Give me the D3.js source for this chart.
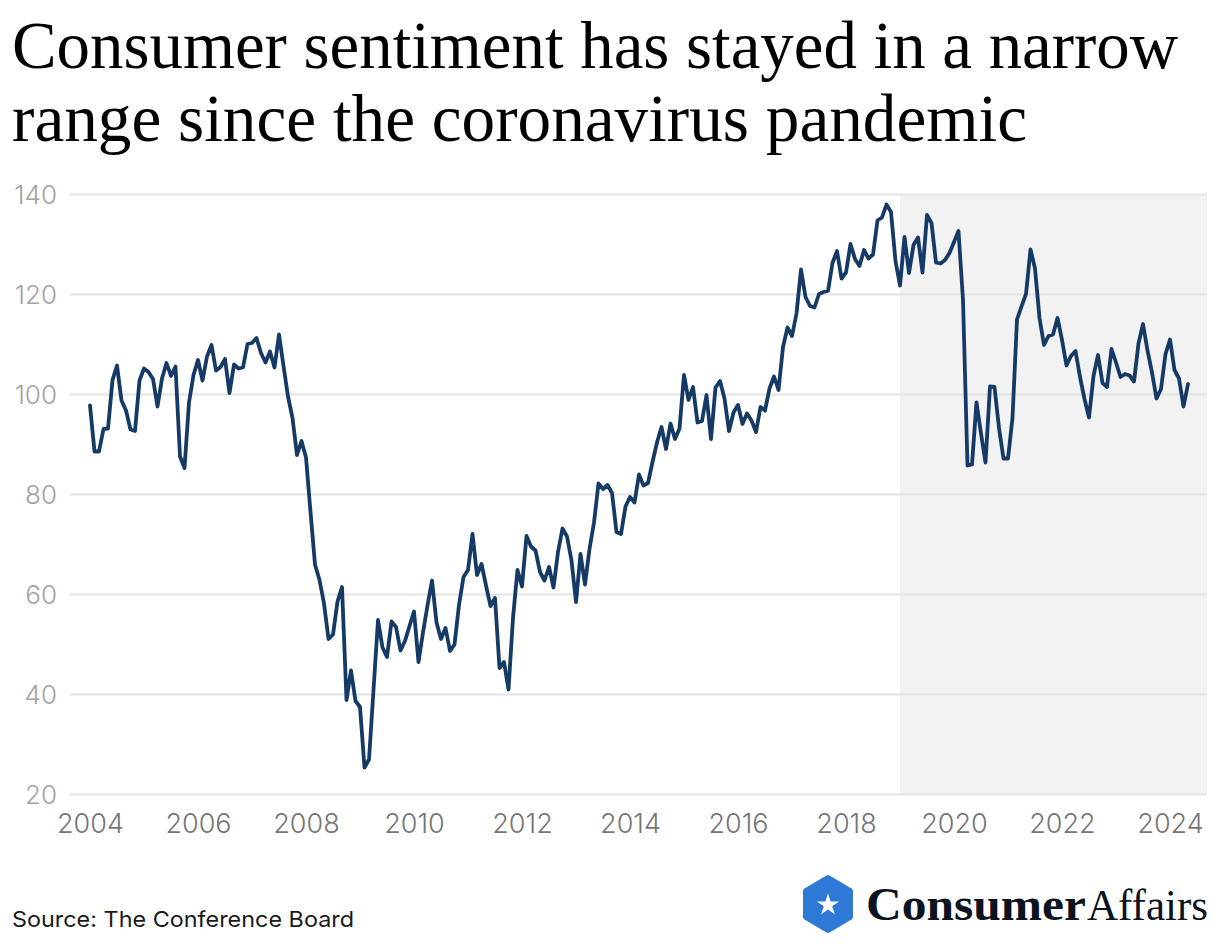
<!DOCTYPE html>
<html>
<head>
<meta charset="utf-8">
<script src="https://cdn.jsdelivr.net/npm/d3@7"></script>
<style>
  html, body { margin: 0; padding: 0; background: #ffffff; }
  svg { display: block; }
</style>
</head>
<body>
<svg id="chart" width="1220" height="944"></svg>
<script>
// ---------- DATA (Conference Board Consumer Confidence Index, monthly) ----------
const startYear = 2004;
const values2004 = [97.7, 88.5, 88.5, 93.0, 93.1, 102.8, 105.7, 98.7, 96.7, 92.9, 92.6, 102.7];
const values2005 = [105.1, 104.4, 103.0, 97.5, 103.1, 106.2, 103.6, 105.5, 87.5, 85.2, 98.3, 103.8];
const values2006 = [106.8, 102.7, 107.5, 109.8, 104.7, 105.4, 107.0, 100.2, 105.9, 105.1, 105.3, 110.0];
const values2007 = [110.2, 111.2, 108.2, 106.3, 108.5, 105.3, 111.9, 105.6, 99.5, 95.2, 87.8, 90.6];
const values2008 = [87.3, 76.4, 65.9, 62.8, 58.1, 51.0, 51.9, 58.5, 61.4, 38.8, 44.7, 38.6];
const values2009 = [37.4, 25.3, 26.9, 40.8, 54.8, 49.3, 47.4, 54.5, 53.4, 48.7, 50.6, 53.6];
const values2010 = [56.5, 46.4, 52.3, 57.7, 62.7, 54.3, 51.0, 53.2, 48.6, 49.9, 57.8, 63.4];
const values2011 = [64.8, 72.0, 63.8, 66.0, 61.7, 57.6, 59.2, 45.2, 46.4, 40.9, 55.2, 64.8];
const values2012 = [61.5, 71.6, 69.5, 68.7, 64.4, 62.7, 65.4, 61.3, 68.4, 73.1, 71.5, 66.7];
const values2013 = [58.4, 68.0, 61.9, 69.0, 74.3, 82.1, 81.0, 81.8, 80.2, 72.4, 72.0, 77.5];
const values2014 = [79.4, 78.3, 83.9, 81.7, 82.2, 86.4, 90.3, 93.4, 89.0, 94.1, 91.0, 93.1];
const values2015 = [103.8, 98.8, 101.4, 94.3, 94.6, 99.8, 91.0, 101.3, 102.6, 99.1, 92.6, 96.3];
const values2016 = [97.8, 94.0, 96.1, 94.7, 92.4, 97.4, 96.7, 101.1, 103.5, 100.8, 109.4, 113.3];
const values2017 = [111.6, 116.1, 124.9, 119.4, 117.6, 117.3, 120.0, 120.4, 120.6, 126.2, 128.6, 123.1];
const values2018 = [124.3, 130.0, 127.0, 125.6, 128.8, 127.1, 127.9, 134.7, 135.3, 137.9, 136.4, 126.6];
const values2019 = [121.7, 131.4, 124.2, 129.8, 131.3, 124.3, 135.8, 134.2, 126.3, 126.1, 126.8, 128.2];
const values2020 = [130.4, 132.6, 118.8, 85.7, 85.9, 98.3, 92.1, 86.3, 101.5, 101.4, 93.2, 87.1];
const values2021 = [87.1, 95.2, 114.9, 117.5, 120.0, 128.9, 125.1, 115.2, 109.8, 111.6, 111.9, 115.2];
const values2022 = [110.8, 105.7, 107.6, 108.6, 103.4, 99.0, 95.3, 103.6, 107.8, 102.2, 101.4, 109.0];
const values2023 = [106.3, 103.4, 104.0, 103.7, 102.5, 110.1, 114.0, 108.7, 104.3, 99.1, 101.0, 108.0];
const values2024 = [110.9, 104.8, 103.1, 97.5, 102.0];

const yTicks = [20, 40, 60, 80, 100, 120, 140];
const xTicks = [2004, 2006, 2008, 2010, 2012, 2014, 2016, 2018, 2020, 2022, 2024];
const shadeStart = 2019;   // shading begins Jan 2019

const titleLines = ["Consumer sentiment has stayed in a narrow", "range since the coronavirus pandemic"];
const sourceText = "Source: The Conference Board";

// ---------- build series ----------
const allYears = [values2004, values2005, values2006, values2007, values2008, values2009, values2010,
  values2011, values2012, values2013, values2014, values2015, values2016, values2017, values2018,
  values2019, values2020, values2021, values2022, values2023, values2024];
const series = [];
allYears.forEach((arr, yi) => arr.forEach((v, m) => series.push({ t: startYear + yi + m / 12, v })));

// ---------- layout ----------
const svg = d3.select("#chart");
const gridLeft = 70, gridRight = 1207;
const plotTop = 194, plotBottom = 794;

const x = d3.scaleLinear().domain([2004, 2024]).range([90, 1170]);
const y = d3.scaleLinear().domain([20, 140]).range([plotBottom, plotTop]);

// shaded region
svg.append("rect")
  .attr("x", x(shadeStart)).attr("y", plotTop)
  .attr("width", gridRight - x(shadeStart)).attr("height", plotBottom - plotTop)
  .attr("fill", "#f2f2f2");

// y axis + gridlines
const yAxis = svg.append("g")
  .attr("transform", `translate(${gridLeft},0)`)
  .call(d3.axisLeft(y).tickValues(yTicks).tickSize(-(gridRight - gridLeft)).tickPadding(13).tickFormat(d3.format("d")));
yAxis.select(".domain").remove();
yAxis.selectAll(".tick line").attr("stroke", "#e3e3e3").attr("stroke-width", 2);
yAxis.selectAll(".tick text")
  .attr("fill", "#a3a3a3")
  .style("font-family", "Inter, 'Noto Sans', sans-serif")
  .style("font-weight", "300")
  .style("font-size", "26px")
  .attr("dy", "0.36em");

// x axis
const xAxis = svg.append("g")
  .attr("transform", `translate(0,${plotBottom})`)
  .call(d3.axisBottom(x).tickValues(xTicks).tickSize(0).tickFormat(d3.format("d")));
xAxis.select(".domain").remove();
xAxis.selectAll(".tick text")
  .attr("y", 39).attr("dy", 0)
  .attr("fill", "#767676")
  .style("font-family", "Inter, 'Noto Sans', sans-serif")
  .style("font-weight", "300")
  .style("font-size", "27px");

// line
svg.append("path")
  .datum(series)
  .attr("fill", "none")
  .attr("stroke", "#163a66")
  .attr("stroke-width", 3.8)
  .attr("stroke-linejoin", "round")
  .attr("stroke-linecap", "round")
  .attr("d", d3.line().x(d => x(d.t)).y(d => y(d.v)));

// title
const titleWidths = [1166, 1015];
const titleBase = [68, 141];
titleLines.forEach((line, i) => {
  svg.append("text")
    .attr("x", 12).attr("y", titleBase[i])
    .attr("fill", "#000")
    .style("font-family", "'Liberation Serif', 'DejaVu Serif', serif")
    .style("font-size", "68px")
    .attr("textLength", titleWidths[i])
    .attr("lengthAdjust", "spacingAndGlyphs")
    .text(line);
});

// source
svg.append("text")
  .attr("x", 12).attr("y", 927)
  .attr("fill", "#1a1a1a")
  .style("font-family", "Inter, 'Noto Sans', sans-serif")
  .style("font-weight", "400")
  .style("font-size", "22px")
  .attr("textLength", 342).attr("lengthAdjust", "spacingAndGlyphs")
  .text(sourceText);

// logo
const logo = svg.append("g");
const cx = 828, cy = 904, rx = 22, ry = 26;
const hex = [[cx, cy - ry], [cx + rx, cy - ry / 2], [cx + rx, cy + ry / 2], [cx, cy + ry], [cx - rx, cy + ry / 2], [cx - rx, cy - ry / 2]];
logo.append("path")
  .attr("d", "M" + hex.map(p => p.join(",")).join("L") + "Z")
  .attr("fill", "#2e78d6").attr("stroke", "#2e78d6")
  .attr("stroke-width", 6).attr("stroke-linejoin", "round");
logo.append("path")
  .attr("d", d3.symbol(d3.symbolStar, 150)())
  .attr("transform", `translate(${cx},${cy + 1})`)
  .attr("fill", "#ffffff");
logo.append("text")
  .attr("x", 866).attr("y", 920)
  .attr("fill", "#0b1220")
  .style("font-family", "'Liberation Serif', 'DejaVu Serif', serif")
  .style("font-weight", "700")
  .style("font-size", "46px")
  .attr("textLength", 220).attr("lengthAdjust", "spacingAndGlyphs")
  .text("Consumer");
logo.append("text")
  .attr("x", 1087).attr("y", 920)
  .attr("fill", "#0b1220")
  .style("font-family", "'Liberation Serif', 'DejaVu Serif', serif")
  .style("font-weight", "400")
  .style("font-size", "44px")
  .attr("textLength", 121).attr("lengthAdjust", "spacingAndGlyphs")
  .text("Affairs");
</script>
</body>
</html>
